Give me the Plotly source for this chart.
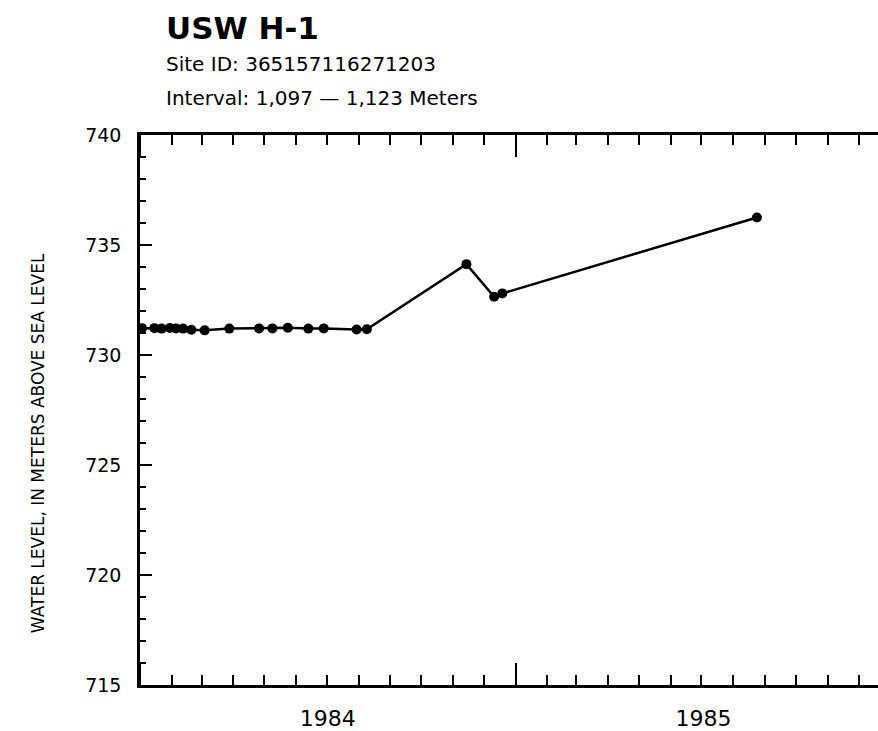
import plotly.graph_objects as go

# Measurement dates and water levels (meters above sea level)
dates = [
    "1984-01-03", "1984-01-15", "1984-01-22", "1984-01-30", "1984-02-05",
    "1984-02-12", "1984-02-20", "1984-03-04", "1984-03-28", "1984-04-26",
    "1984-05-09", "1984-05-24", "1984-06-13", "1984-06-28", "1984-07-30",
    "1984-08-09", "1984-11-14", "1984-12-11", "1984-12-19", "1985-08-24",
]
levels = [
    731.22, 731.22, 731.20, 731.23, 731.21,
    731.20, 731.15, 731.12, 731.20, 731.21,
    731.21, 731.24, 731.20, 731.21, 731.16,
    731.17, 734.13, 732.65, 732.80, 736.25,
]

title_text = "USW H-1"
site_text = "Site ID: 365157116271203"
interval_text = "Interval: 1,097 \u2014 1,123 Meters"
ytitle_text = "WATER LEVEL, IN METERS ABOVE SEA LEVEL"

x_range = ["1984-01-01", "1985-12-20"]
y_range = [715, 740]

FONT = "DejaVu Sans"

fig = go.Figure()
fig.add_trace(go.Scatter(
    x=dates, y=levels, mode="lines+markers",
    line=dict(color="black", width=2.5),
    marker=dict(color="black", size=10),
    showlegend=False, cliponaxis=False,
))

fig.update_layout(
    width=878, height=731,
    margin=dict(l=140, r=0, t=135, b=46),
    paper_bgcolor="white", plot_bgcolor="white",
    font=dict(family=FONT, color="black"),
    xaxis=dict(
        type="date", range=x_range,
        showline=True, linecolor="black", linewidth=2.5, mirror="ticks",
        ticks="inside", ticklen=22, tickwidth=2, tickcolor="black",
        dtick="M12", tick0="1984-01-01", tickformat="%Y",
        ticklabelmode="period", ticklabelstandoff=12,
        tickfont=dict(size=22, family=FONT, color="black"),
        minor=dict(dtick="M1", tick0="1984-01-01", ticks="inside",
                   ticklen=10, tickwidth=2, tickcolor="black", showgrid=False),
        showgrid=False, zeroline=False,
    ),
    yaxis=dict(
        range=y_range,
        showline=True, linecolor="black", linewidth=2.5,
        ticks="inside", ticklen=12, tickwidth=2, tickcolor="black",
        dtick=5, tick0=715, ticklabelstandoff=12,
        tickfont=dict(size=19, family=FONT, color="black"),
        minor=dict(dtick=1, ticks="inside", ticklen=6, tickwidth=2,
                   tickcolor="black", showgrid=False),
        showgrid=False, zeroline=False,
    ),
    annotations=[
        dict(text="<b>" + title_text + "</b>", xref="paper", yref="paper",
             x=0.032, y=1.195, xanchor="left", yanchor="middle",
             showarrow=False, font=dict(size=31, family=FONT, color="black")),
        dict(text=site_text, xref="paper", yref="paper",
             x=0.032, y=1.129, xanchor="left", yanchor="middle",
             showarrow=False, font=dict(size=20, family=FONT, color="black")),
        dict(text=interval_text, xref="paper", yref="paper",
             x=0.032, y=1.068, xanchor="left", yanchor="middle",
             showarrow=False, font=dict(size=20, family=FONT, color="black")),
        dict(text=ytitle_text, xref="paper", yref="paper",
             x=-0.138, y=0.44, xanchor="center", yanchor="middle",
             textangle=-90, showarrow=False,
             font=dict(size=17, family=FONT, color="black")),
    ],
)

# Remove the default page margin so the 878x731 figure fills the window exactly.
fig.write_html("out.html", config={"displayModeBar": False},
               post_script="document.body.style.margin='0px';")
